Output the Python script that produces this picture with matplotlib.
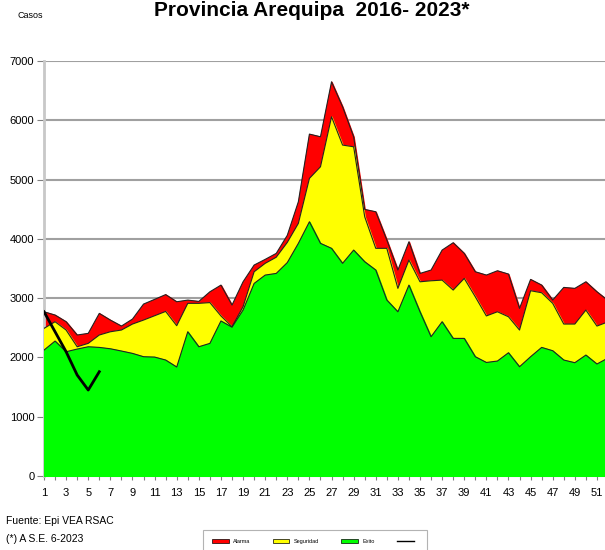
import numpy as np
import matplotlib
matplotlib.use("Agg")
import matplotlib.pyplot as plt
from matplotlib.patches import Patch
from matplotlib.lines import Line2D

plt.rcParams['font.family'] = ['Liberation Sans Narrow', 'Liberation Sans', 'DejaVu Sans']

# Semanas epidemiologicas
semanas = list(range(1, 53))

# Limites del canal endemico (valores acumulados)
exito = [2124, 2276, 2096, 2141, 2180, 2169, 2146, 2108, 2068, 2012,
         2006, 1956, 1838, 2433, 2180, 2237, 2615, 2510, 2799, 3248,
         3389, 3417, 3600, 3924, 4288, 3924, 3840, 3587, 3811, 3614,
         3474, 2968, 2770, 3220, 2770, 2349, 2602, 2321, 2321, 2012,
         1915, 1939, 2079, 1843, 2012, 2169, 2113, 1956, 1911, 2040,
         1889, 1990]
seguridad = [2490, 2602, 2462, 2180, 2237, 2378, 2433, 2462, 2563, 2630,
             2703, 2776, 2535, 2912, 2912, 2925, 2700, 2518, 2855, 3445,
             3587, 3690, 3940, 4261, 5020, 5216, 6059, 5582, 5553, 4373,
             3840, 3840, 3165, 3643, 3276, 3293, 3304, 3136, 3333, 3023,
             2700, 2770, 2686, 2462, 3125, 3091, 2912, 2563, 2563, 2799,
             2529, 2600]
alarma = [2770, 2715, 2602, 2378, 2406, 2743, 2630, 2529, 2647, 2900,
          2979, 3060, 2939, 2967, 2945, 3107, 3220, 2883, 3276, 3558,
          3654, 3755, 4060, 4626, 5767, 5722, 6649, 6227, 5722, 4497,
          4457, 3980, 3474, 3951, 3417, 3474, 3811, 3935, 3755, 3445,
          3389, 3462, 3406, 2827, 3316, 3220, 2968, 3181, 3165, 3276,
          3107, 2960]

# Casos 2023
sem_2023 = [1, 2, 3, 4, 5, 6]
casos_2023 = [2770, 2433, 2096, 1703, 1450, 1759]

fig = plt.figure(figsize=(6.05, 5.5), dpi=100)
ax = fig.add_axes([44 / 605, 74 / 550, 564 / 605, 415 / 550])

ax.fill_between(semanas, 0, alarma, color='#ff0000', zorder=2)
ax.fill_between(semanas, 0, seguridad, color='#ffff00', zorder=3)
ax.fill_between(semanas, 0, exito, color='#00ff00', zorder=4)
for serie in (alarma, seguridad, exito):
    ax.plot(semanas, serie, color='#222222', lw=0.8, zorder=5)
ax.plot(sem_2023, casos_2023, color='black', lw=2, zorder=6)

ax.set_xlim(1, 52)
ax.set_ylim(0, 7000)
ax.set_yticks(range(0, 7001, 1000))
ax.set_xticks(semanas)
ax.set_xticklabels([str(s) if s % 2 == 1 else '' for s in semanas])
ax.yaxis.grid(True, color='#a0a0a0', lw=1.5, zorder=0)
ax.set_axisbelow(True)
for s in ('top', 'right'):
    ax.spines[s].set_visible(False)
ax.spines['left'].set_color('#c8c8c8')
ax.spines['left'].set_linewidth(2)
ax.spines['bottom'].set_color('#a0a0a0')
ax.tick_params(axis='y', labelsize=8, length=5, color='#808080', pad=2)
ax.tick_params(axis='x', labelsize=8, length=3, color='#808080', pad=6)

fig.text(312 / 605, 1 - 16 / 550, 'Provincia Arequipa  2016- 2023*', ha='center',
         va='baseline', fontsize=15, fontweight='bold')
fig.text(17 / 605, 1 - 15 / 550, 'Casos', ha='left', va='center', fontsize=6.5)
fig.text(6 / 605, 1 - 521 / 550, 'Fuente: Epi VEA RSAC', ha='left', va='center', fontsize=7.5)
fig.text(6 / 605, 1 - 539 / 550, '(*) A S.E. 6-2023', ha='left', va='center', fontsize=7.5)

handles = [Patch(facecolor='#ff0000', edgecolor='black', lw=0.5),
           Patch(facecolor='#ffff00', edgecolor='black', lw=0.5),
           Patch(facecolor='#00ff00', edgecolor='black', lw=0.5),
           Line2D([], [], color='black', lw=1)]
leg = fig.legend(handles, ['Alarma', 'Seguridad', 'Exito', ''], ncol=4,
                 loc='upper center', bbox_to_anchor=(315 / 605, 1 - 527 / 550),
                 fontsize=4, frameon=True, fancybox=False, edgecolor='#a0a0a0',
                 handlelength=3, handleheight=0.8, columnspacing=4, borderpad=1.6)
leg.get_frame().set_linewidth(0.8)

fig.savefig('out.png', dpi=100)
